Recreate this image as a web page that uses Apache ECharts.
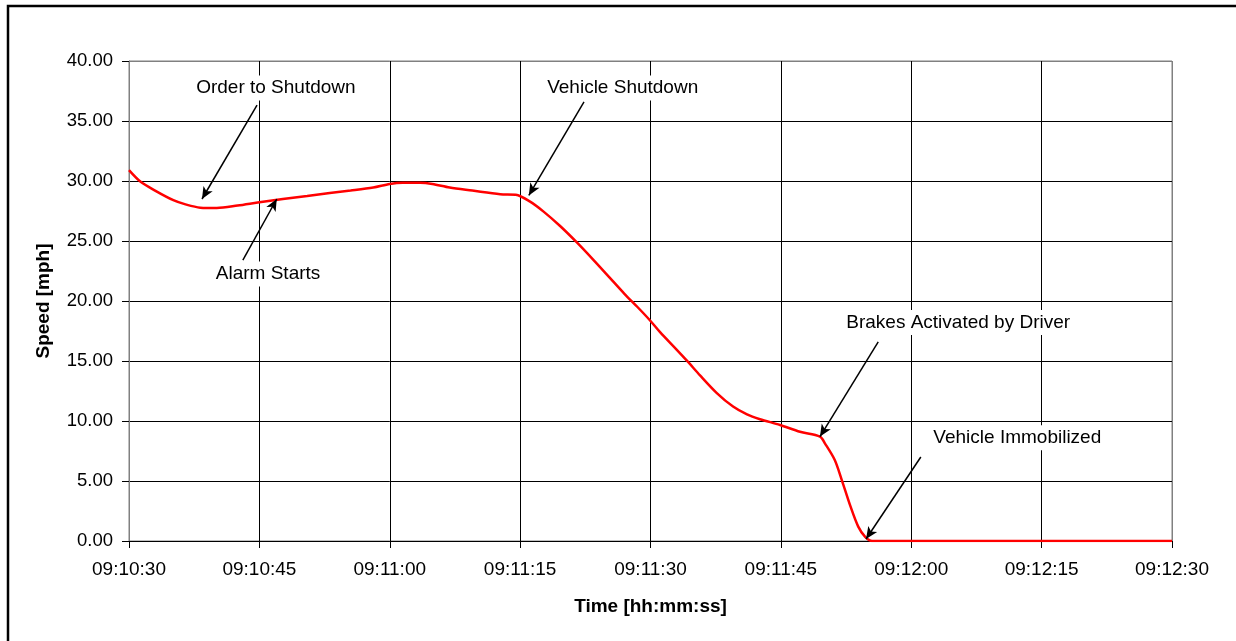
<!DOCTYPE html>
<html><head><meta charset="utf-8">
<script src="https://cdn.jsdelivr.net/npm/echarts@6/dist/echarts.min.js"></script>
<style>html,body{margin:0;padding:0;background:#fff}#c{width:1236px;height:641px}</style>
</head><body><div id="c"></div>
<script>
const startTime = '09:10:30';
// elapsed seconds from startTime
const elapsedSec = [0, 1.3, 3, 5.1, 6.5, 8.2, 10.1, 12.5, 14.8, 17.7, 20.5, 23.1, 25.5, 28.1, 30.0, 31.5, 33.5, 34.9, 36.9, 39.5, 42.7, 44.5, 46.1, 47.7, 49.6, 51.5, 53.4, 55.3, 57.0, 58.5, 59.9, 61.1, 63.0, 64.35, 65.7, 67.6, 69.5, 71.1, 72.6, 74.9, 77.2, 79.5, 80.1, 81.2, 82.0, 83.0, 83.9, 84.7, 85.5, 120];
const speedMph  = [30.9, 29.95, 29.2, 28.4, 28.05, 27.78, 27.75, 27.95, 28.2, 28.5, 28.75, 29.0, 29.2, 29.45, 29.75, 29.85, 29.85, 29.75, 29.45, 29.2, 28.9, 28.85, 28.3, 27.45, 26.25, 24.9, 23.45, 21.95, 20.6, 19.5, 18.42, 17.4, 15.95, 14.9, 13.8, 12.35, 11.2, 10.55, 10.15, 9.67, 9.1, 8.7, 8.1, 6.75, 5.1, 2.9, 1.2, 0.35, 0, 0];

const annotationTexts = ['Order to Shutdown', 'Alarm Starts', 'Vehicle Shutdown', 'Brakes Activated by Driver', 'Vehicle Immobilized'];
const annotationTextAt = [[16.9, 37.75], [16.0, 22.25], [56.8, 37.75], [95.4, 18.2], [102.2, 8.6]];
const arrowFrom = [[14.73, 36.33], [13.1, 23.4], [52.35, 36.6], [86.2, 16.6], [91.1, 7.0]];
const arrowTo   = [[8.4, 28.5], [17.0, 28.5], [46.0, 28.8], [79.5, 8.7], [84.8, 0.17]];

function toSec(s){const p=s.split(':').map(Number);return p[0]*3600+p[1]*60+p[2];}
const base = toSec(startTime);
function fmt(v){const t=Math.round(base+v);const h=Math.floor(t/3600),m=Math.floor(t%3600/60),s=t%60;const z=n=>String(n).padStart(2,'0');return z(h)+':'+z(m)+':'+z(s);}

const FONT = 'Liberation Sans, Arial, sans-serif';
const chart = echarts.init(document.getElementById('c'), null, {renderer:'canvas'});
const splitColors = ['#000','#000','#000','#000','#000','#000','#000','#000','#808080'];
chart.setOption({
  backgroundColor:'#fff',
  animation:false,
  graphic:[{type:'rect', shape:{x:8, y:6, width:1400, height:800}, style:{fill:'none', stroke:'#000', lineWidth:2.5}, silent:true, z:100}],
  grid:{left:129, top:61, right:64, bottom:100, show:true, borderColor:'#808080', borderWidth:1},
  xAxis:{type:'value', min:0, max:120, interval:15,
    axisLine:{lineStyle:{color:'#000', width:1}},
    axisTick:{show:true, length:7, lineStyle:{color:'#000'}},
    splitLine:{show:true, lineStyle:{color:splitColors, width:1}},
    axisLabel:{formatter:fmt, color:'#000', fontSize:19, fontFamily:FONT, margin:19},
    name:'Time [hh:mm:ss]', nameLocation:'middle', nameGap:56,
    nameTextStyle:{fontWeight:'bold', fontSize:19, color:'#000', fontFamily:FONT}},
  yAxis:{type:'value', min:0, max:40, interval:5,
    axisLine:{show:true, lineStyle:{color:'#808080', width:1}},
    axisTick:{show:true, length:7, lineStyle:{color:'#000'}},
    splitLine:{show:true, lineStyle:{color:splitColors, width:1}},
    axisLabel:{formatter:v=>v.toFixed(2), color:'#000', fontSize:18.5, fontFamily:FONT, margin:16},
    name:'Speed [mph]', nameLocation:'middle', nameGap:76, nameRotate:90,
    nameTextStyle:{fontWeight:'bold', fontSize:19, color:'#000', fontFamily:FONT}},
  series:[{
    type:'line', data:elapsedSec.map((t,i)=>[t,speedMph[i]]), showSymbol:false, smooth:0.3,
    lineStyle:{color:'#ff0000', width:2.5}, z:3,
    markLine:{silent:true, symbol:['none','arrow'], symbolSize:11, animation:false,
      lineStyle:{color:'#000', width:1.5, type:'solid'}, label:{show:false},
      data: arrowFrom.map((f,i)=>[{coord:f, symbol:'none'}, {coord:arrowTo[i], symbol:'arrow', symbolSize:[8,12]}])},
    markPoint:{silent:true, symbol:'circle', symbolSize:0, animation:false,
      label:{show:true, position:'inside', color:'#000', fontSize:19, fontFamily:FONT, backgroundColor:'#fff', padding:[3,4]},
      data: annotationTexts.map((t,i)=>({coord:annotationTextAt[i], value:t, label:{formatter:t}}))}
  }]
});
</script></body></html>
